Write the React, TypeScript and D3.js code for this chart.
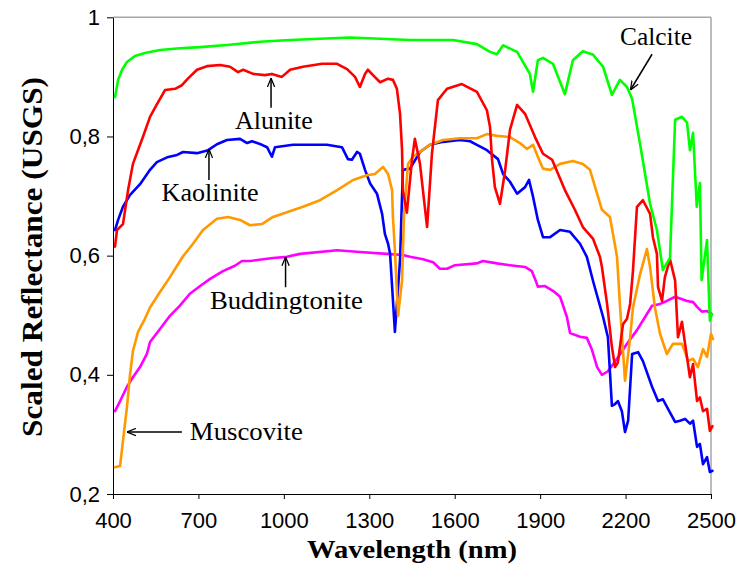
import React, { useEffect, useRef } from 'react';
import * as d3 from 'd3';

// axis ticks
const xTicks = [400, 700, 1000, 1300, 1600, 1900, 2200, 2500];
const yTicks = [0.2, 0.4, 0.6, 0.8, 1];

// spectra: [wavelength (nm), scaled reflectance]
const calcite: [number, number][] = [
  [407, 0.866], [418, 0.895], [432, 0.912], [449, 0.925], [477, 0.935], [512, 0.94], [565, 0.945],
  [635, 0.948], [706, 0.95], [811, 0.954], [916, 0.959], [1022, 0.962], [1127, 0.964], [1232, 0.966],
  [1338, 0.964], [1443, 0.962], [1594, 0.962], [1678, 0.955], [1724, 0.942], [1748, 0.938], [1770, 0.953],
  [1819, 0.942], [1864, 0.905], [1875, 0.875], [1892, 0.928], [1910, 0.932], [1945, 0.922], [1987, 0.871],
  [2015, 0.928], [2050, 0.943], [2086, 0.937], [2121, 0.917], [2152, 0.87], [2180, 0.895], [2205, 0.883],
  [2223, 0.863], [2251, 0.787], [2286, 0.687], [2310, 0.643], [2331, 0.576], [2356, 0.596], [2374, 0.828],
  [2398, 0.833], [2416, 0.823], [2426, 0.777], [2437, 0.806], [2450, 0.682], [2461, 0.722], [2467, 0.559],
  [2486, 0.626], [2496, 0.491], [2503, 0.502],
];

const alunite: [number, number][] = [
  [407, 0.615], [414, 0.643], [435, 0.653], [453, 0.71], [470, 0.754], [505, 0.799], [530, 0.833],
  [554, 0.854], [583, 0.878], [618, 0.88], [642, 0.886], [663, 0.897], [695, 0.912], [730, 0.918],
  [776, 0.92], [811, 0.917], [839, 0.908], [857, 0.912], [892, 0.905], [934, 0.903], [958, 0.905],
  [993, 0.9], [1022, 0.912], [1067, 0.917], [1134, 0.922], [1187, 0.922], [1222, 0.913], [1250, 0.9],
  [1267, 0.883], [1285, 0.905], [1295, 0.912], [1313, 0.903], [1338, 0.891], [1366, 0.897], [1383, 0.895],
  [1397, 0.88], [1408, 0.838], [1415, 0.778], [1418, 0.71], [1432, 0.672], [1450, 0.761], [1460, 0.796],
  [1478, 0.754], [1503, 0.648], [1520, 0.771], [1541, 0.861], [1573, 0.88], [1625, 0.888], [1678, 0.875],
  [1713, 0.844], [1724, 0.816], [1731, 0.761], [1741, 0.715], [1759, 0.687], [1777, 0.743], [1794, 0.811],
  [1819, 0.853], [1847, 0.838], [1882, 0.799], [1910, 0.771], [1942, 0.761], [1987, 0.71], [2022, 0.677],
  [2050, 0.648], [2086, 0.628], [2110, 0.598], [2117, 0.581], [2135, 0.519], [2152, 0.447], [2163, 0.413],
  [2173, 0.421], [2191, 0.485], [2205, 0.494], [2216, 0.519], [2226, 0.575], [2240, 0.682], [2261, 0.693],
  [2286, 0.67], [2296, 0.631], [2310, 0.603], [2314, 0.547], [2328, 0.524], [2338, 0.564], [2356, 0.594],
  [2374, 0.558], [2384, 0.463], [2398, 0.489], [2409, 0.452], [2426, 0.396], [2437, 0.418], [2451, 0.356],
  [2461, 0.362], [2472, 0.339], [2486, 0.343], [2496, 0.306], [2505, 0.314],
];

const kaolinite: [number, number][] = [
  [407, 0.643], [418, 0.66], [435, 0.682], [460, 0.702], [495, 0.72], [530, 0.744], [554, 0.757],
  [590, 0.765], [625, 0.769], [646, 0.774], [695, 0.772], [734, 0.777], [765, 0.787], [800, 0.794],
  [846, 0.796], [871, 0.789], [888, 0.792], [923, 0.786], [941, 0.782], [958, 0.766], [969, 0.782],
  [1032, 0.786], [1151, 0.786], [1204, 0.782], [1225, 0.762], [1239, 0.761], [1257, 0.774], [1267, 0.771],
  [1285, 0.744], [1303, 0.721], [1327, 0.704], [1345, 0.67], [1355, 0.636], [1366, 0.62], [1373, 0.603],
  [1390, 0.472], [1408, 0.593], [1418, 0.744], [1443, 0.746], [1478, 0.774], [1513, 0.786], [1559, 0.791],
  [1618, 0.794], [1654, 0.792], [1678, 0.786], [1713, 0.777], [1752, 0.762], [1770, 0.737], [1794, 0.724],
  [1819, 0.704], [1847, 0.715], [1861, 0.727], [1875, 0.699], [1892, 0.66], [1910, 0.631], [1935, 0.631],
  [1970, 0.643], [2005, 0.64], [2040, 0.62], [2064, 0.598], [2086, 0.557], [2121, 0.497], [2138, 0.463],
  [2152, 0.348], [2163, 0.351], [2173, 0.356], [2187, 0.339], [2198, 0.304], [2209, 0.323], [2223, 0.435],
  [2244, 0.438], [2261, 0.423], [2293, 0.38], [2314, 0.356], [2331, 0.359], [2349, 0.343], [2374, 0.321],
  [2391, 0.323], [2409, 0.326], [2426, 0.318], [2437, 0.323], [2451, 0.279], [2461, 0.284], [2472, 0.25],
  [2486, 0.262], [2496, 0.237], [2505, 0.239],
];

const muscovite: [number, number][] = [
  [407, 0.245], [425, 0.247], [435, 0.289], [449, 0.346], [460, 0.401], [470, 0.44], [488, 0.472],
  [512, 0.494], [530, 0.513], [565, 0.539], [600, 0.564], [625, 0.583], [646, 0.599], [681, 0.62],
  [716, 0.643], [765, 0.662], [804, 0.665], [846, 0.66], [881, 0.651], [923, 0.653], [962, 0.665],
  [1011, 0.673], [1067, 0.682], [1127, 0.693], [1187, 0.71], [1243, 0.727], [1292, 0.735], [1320, 0.737],
  [1348, 0.749], [1366, 0.737], [1380, 0.71], [1383, 0.665], [1390, 0.609], [1401, 0.499], [1415, 0.558],
  [1422, 0.67], [1436, 0.754], [1453, 0.766], [1478, 0.774], [1513, 0.786], [1559, 0.794], [1618, 0.797],
  [1678, 0.797], [1713, 0.804], [1748, 0.801], [1794, 0.799], [1829, 0.789], [1854, 0.779], [1875, 0.786],
  [1892, 0.766], [1910, 0.746], [1935, 0.744], [1970, 0.754], [2015, 0.759], [2050, 0.754], [2075, 0.744],
  [2100, 0.704], [2117, 0.677], [2145, 0.665], [2156, 0.636], [2170, 0.598], [2180, 0.519], [2198, 0.39],
  [2216, 0.463], [2226, 0.513], [2251, 0.569], [2275, 0.611], [2286, 0.581], [2303, 0.513], [2321, 0.469],
  [2345, 0.435], [2366, 0.452], [2398, 0.452], [2409, 0.438], [2419, 0.423], [2437, 0.427], [2454, 0.413],
  [2472, 0.443], [2486, 0.43], [2500, 0.469], [2507, 0.46],
];

const buddingtonite: [number, number][] = [
  [407, 0.339], [425, 0.356], [449, 0.38], [470, 0.396], [495, 0.413], [519, 0.435], [530, 0.455],
  [565, 0.477], [600, 0.499], [635, 0.516], [670, 0.536], [706, 0.549], [741, 0.561], [786, 0.574],
  [828, 0.583], [853, 0.591], [881, 0.591], [927, 0.594], [962, 0.596], [1011, 0.598], [1057, 0.603],
  [1187, 0.609], [1267, 0.606], [1362, 0.603], [1418, 0.601], [1443, 0.598], [1489, 0.594], [1524, 0.589],
  [1548, 0.578], [1573, 0.578], [1601, 0.584], [1678, 0.587], [1699, 0.591], [1748, 0.587], [1794, 0.584],
  [1847, 0.581], [1871, 0.574], [1882, 0.561], [1892, 0.548], [1917, 0.549], [1945, 0.541], [1970, 0.531],
  [1994, 0.497], [2005, 0.47], [2040, 0.464], [2064, 0.462], [2082, 0.442], [2100, 0.413], [2117, 0.4],
  [2138, 0.406], [2170, 0.427], [2205, 0.452], [2240, 0.475], [2275, 0.502], [2293, 0.516], [2321, 0.519],
  [2345, 0.524], [2374, 0.531], [2416, 0.524], [2437, 0.522], [2451, 0.514], [2468, 0.506], [2486, 0.507],
  [2503, 0.502],
];

// drawing order: first drawn sits underneath
const series = [
  { name: 'Buddingtonite', color: '#ff00ff', values: buddingtonite },
  { name: 'Kaolinite', color: '#0000ff', values: kaolinite },
  { name: 'Muscovite', color: '#ff9900', values: muscovite },
  { name: 'Alunite', color: '#ff0000', values: alunite },
  { name: 'Calcite', color: '#00ff00', values: calcite },
];

// callouts in data units: label anchor, arrow tail -> arrow tip
const callouts = [
  { text: 'Calcite', at: [2307, 0.9535], anchor: 'middle', len: 72, from: [2293, 0.938], to: [2217, 0.878] },
  { text: 'Alunite', at: [965, 0.8125], anchor: 'middle', len: 78, from: [955, 0.848], to: [955, 0.898] },
  { text: 'Kaolinite', at: [741, 0.692], anchor: 'middle', len: 97, from: [737, 0.727], to: [737, 0.779] },
  { text: 'Buddingtonite', at: [1009, 0.51], anchor: 'middle', len: 153, from: [1006, 0.547], to: [1006, 0.598] },
  { text: 'Muscovite', at: [670, 0.291], anchor: 'start', len: 113, from: [642, 0.304], to: [449, 0.304] },
];

const W = 738;
const H = 568;
const plot = { left: 113, right: 711, top: 17.3, bottom: 494 };

const serif = '"Liberation Serif", "Times New Roman", serif';
const sans = '"Liberation Sans", Arial, sans-serif';

const commaLocale = d3.formatLocale({ decimal: ',', thousands: '.', grouping: [3], currency: ['', ''] });
const fmtY = commaLocale.format('~g');

const App: React.FC = () => {
  const xAxisRef = useRef<SVGGElement>(null);
  const yAxisRef = useRef<SVGGElement>(null);

  const x = d3.scaleLinear().domain([400, 2500]).range([plot.left, plot.right]);
  const y = d3.scaleLinear().domain([0.2, 1]).range([plot.bottom, plot.top]);

  const line = d3.line<[number, number]>()
    .x(d => x(d[0]))
    .y(d => y(d[1]));

  useEffect(() => {
    if (!xAxisRef.current || !yAxisRef.current) return;

    const gx = d3.select(xAxisRef.current);
    gx.selectAll('*').remove();
    gx.call(
      d3.axisBottom(x).tickValues(xTicks).tickFormat(d3.format('d')).tickSize(5).tickSizeOuter(0).tickPadding(13)
    );
    gx.selectAll('text').attr('font-family', sans).attr('font-size', 22).attr('fill', '#000');
    gx.selectAll('line').attr('stroke', '#000');
    gx.select('.domain').attr('stroke', '#000');

    const gy = d3.select(yAxisRef.current);
    gy.selectAll('*').remove();
    gy.call(
      d3.axisLeft(y).tickValues(yTicks).tickFormat(d => fmtY(d as number)).tickSize(6).tickSizeOuter(0).tickPadding(7)
    );
    gy.selectAll('text').attr('font-family', sans).attr('font-size', 22).attr('fill', '#000');
    gy.selectAll('line').attr('stroke', '#000');
    gy.select('.domain').attr('stroke', '#000');
  }, []);

  return (
    <svg
      width={W}
      height={H}
      style={{ position: 'absolute', left: 0, top: 0, background: '#fff' }}
    >
      <defs>
        <marker id="arrowhead" viewBox="0 0 10 10" refX="10" refY="5" markerWidth="9" markerHeight="9"
          markerUnits="userSpaceOnUse" orient="auto">
          <path d="M0,1 L10,5 L0,9" fill="none" stroke="#000" strokeWidth={1.4} />
        </marker>
      </defs>

      {/* plot frame: grey top and right */}
      <line x1={plot.left} x2={plot.right} y1={plot.top} y2={plot.top} stroke="#a6a6a6" strokeWidth={1.5} />
      <line x1={plot.right} x2={plot.right} y1={plot.top} y2={plot.bottom} stroke="#a6a6a6" strokeWidth={1.5} />

      <g ref={xAxisRef} transform={`translate(0,${plot.bottom})`} />
      <g ref={yAxisRef} transform={`translate(${plot.left},0)`} />

      {series.map(s => (
        <path key={s.name} d={line(s.values) || ''} fill="none" stroke={s.color} strokeWidth={2.6}
          strokeLinejoin="round" strokeLinecap="round" />
      ))}

      {callouts.map(c => (
        <g key={c.text}>
          <line x1={x(c.from[0])} y1={y(c.from[1])} x2={x(c.to[0])} y2={y(c.to[1])}
            stroke="#000" strokeWidth={1.5} markerEnd="url(#arrowhead)" />
          <text x={x(c.at[0])} y={y(c.at[1])} textAnchor={c.anchor as any} fontFamily={serif} fontSize={26}
            textLength={c.len} lengthAdjust="spacingAndGlyphs" fill="#000">
            {c.text}
          </text>
        </g>
      ))}

      <text x={412} y={558} textAnchor="middle" fontFamily={serif} fontWeight="bold" fontSize={26}
        textLength={210} lengthAdjust="spacingAndGlyphs">
        Wavelength (nm)
      </text>
      <text transform="translate(42,257) rotate(-90)" textAnchor="middle" fontFamily={serif} fontWeight="bold"
        fontSize={30} textLength={360} lengthAdjust="spacingAndGlyphs">
        Scaled Reflectance (USGS)
      </text>
    </svg>
  );
};

export default App;
